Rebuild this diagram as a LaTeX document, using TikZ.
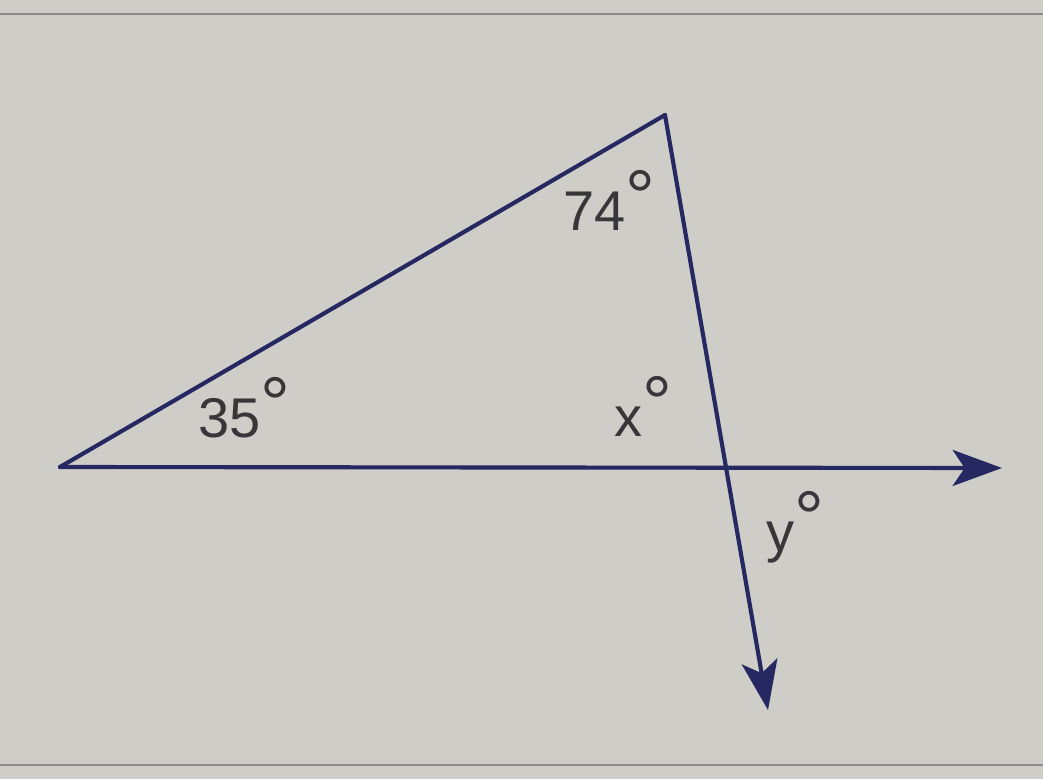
\documentclass[tikz,border=0pt]{standalone}
\usepackage{fontspec}
\setmainfont{Liberation Sans}
\usetikzlibrary{arrows.meta}
\definecolor{bg}{RGB}{206,205,200}
\definecolor{ink}{RGB}{38,40,98}
\definecolor{txt}{RGB}{55,55,58}
\definecolor{rule}{RGB}{140,140,140}
\newcommand{\dgr}{\raisebox{0.14em}{\fontsize{56pt}{56pt}\selectfont °}}
\tikzset{
  edge/.style={draw=ink, line width=3.1pt, line cap=round, line join=round},
  arr/.style={edge, -{Stealth[length=37pt, width=27pt, inset=9pt]}},
  lbl/.style={text=txt, font=\fontsize{42pt}{48pt}\selectfont, inner sep=0pt, anchor=base west},
  border/.style={draw=rule, line width=1.5pt}
}
\begin{document}
\begin{tikzpicture}[x=0.75pt, y=-0.75pt]
\fill[bg] (0,0) rectangle (1043,779);
\useasboundingbox (0,0) rectangle (1043,779);
\coordinate (tl) at (0,14);
\coordinate (tr) at (1043,14);
\coordinate (bl) at (0,765);
\coordinate (br) at (1043,765);
\draw[border] (tl) -- (tr);
\draw[border] (bl) -- (br);
\coordinate (A) at (60,467);
\coordinate (B) at (665,115);
\coordinate (H) at (1002,468);
\coordinate (D) at (768,710);
\draw[edge] (A) -- (B);
\draw[arr] (A) -- (H);
\draw[arr] (B) -- (D);
\node[lbl] (l74) at (563,230) {74\dgr};
\node[lbl] (l35) at (198,437) {35\dgr};
\node[lbl] (lx) at (614,436) {x\dgr};
\node[lbl] (ly) at (766,551) {y\dgr};
\end{tikzpicture}
\end{document}
